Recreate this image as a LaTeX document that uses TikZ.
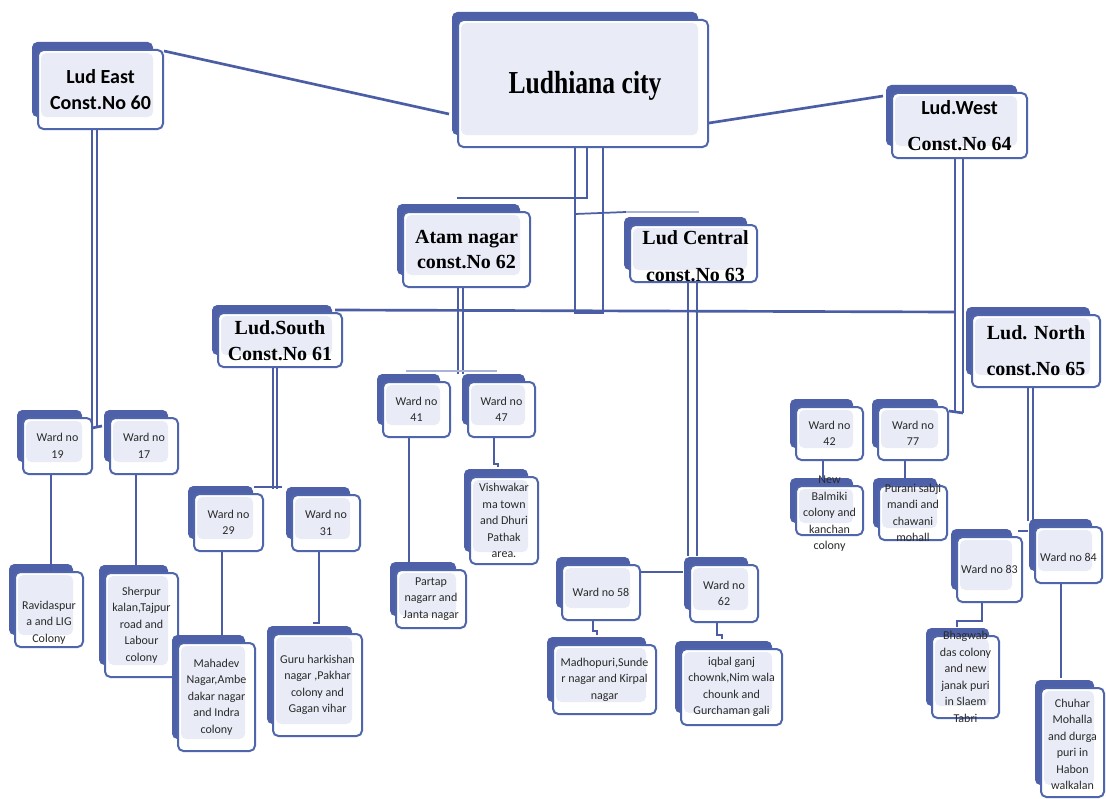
\documentclass[tikz,border=0pt]{standalone}
\usepackage{graphicx}
\usepackage{fontspec}
\setmainfont{Liberation Serif}
\newfontfamily\carl{Carlito}
\usetikzlibrary{calc}
\definecolor{shadowc}{HTML}{4E60A8}
\definecolor{borderc}{HTML}{5066AC}
\definecolor{lightc}{HTML}{E9ECF6}
\definecolor{linec}{HTML}{4A5DA5}
\definecolor{lightline}{HTML}{A9B3D8}
\definecolor{wtextc}{HTML}{2A2A2A}
\newcommand\bx[5]{%
  \fill[shadowc, rounded corners=4pt] ({#2-6},{#3-8}) rectangle ({#4-10},{#5-12});
  \node[box, minimum width={(#4-#2)*0.75pt}, minimum height={(#5-#3)*0.75pt}] (#1) at ({(#2+#4)/2},{(#3+#5)/2}) {};}
\begin{document}
\begin{tikzpicture}[x=0.75pt,y=-0.75pt,
  box/.style={draw=borderc, line width=1.5pt, fill=white, rounded corners=4pt, inner sep=0pt,
    path picture={\fill[lightc] ([shift={(3,3)}]path picture bounding box.north west) rectangle ([shift={(-10,-12)}]path picture bounding box.south east);}},
  wt/.style={align=center, font=\carl\fontsize{9}{12.4}\selectfont, text=wtextc, inner sep=0pt},
  ht/.style={align=center, font=\bfseries\fontsize{15}{19.5}\selectfont, inner sep=0pt},
  conn/.style={draw=linec, line width=2pt},
  dbl/.style={draw=linec, line width=1.3pt},
  wline/.style={draw=linec, line width=1.6pt},
  connlight/.style={draw=lightline, line width=1.5pt}]
\useasboundingbox[fill=white] (0,0) rectangle (1106,799);

% ---------- boxes ----------
\bx{city}{458}{20}{708}{147}
\bx{east}{38}{50}{163}{129}
\bx{west}{892}{93}{1027}{158}
\bx{atam}{403}{212}{530}{287}
\bx{central}{630}{225}{757}{282}
\bx{south}{218}{313}{342}{367}
\bx{north}{972}{315}{1100}{387}
\bx{w19}{23}{418}{92}{474}
\bx{w17}{110}{418}{178}{474}
\bx{w29}{194}{494}{263}{551}
\bx{w31}{292}{495}{360}{551}
\bx{w41}{383}{382}{450}{437}
\bx{w47}{468}{382}{535}{437}
\bx{w58}{562}{565}{640}{620}
\bx{w62}{690}{565}{758}{622}
\bx{w42}{796}{407}{863}{460}
\bx{w77}{878}{407}{948}{460}
\bx{w84}{1035}{527}{1102}{583}
\bx{w83}{957}{537}{1022}{602}
\bx{ravi}{15}{572}{83}{647}
\bx{sher}{105}{573}{178}{677}
\bx{maha}{178}{643}{255}{751}
\bx{guru}{273}{634}{362}{736}
\bx{vish}{470}{477}{538}{564}
\bx{part}{396}{570}{466}{628}
\bx{madh}{553}{645}{656}{714}
\bx{iqba}{681}{649}{782}{725}
\bx{balm}{796}{486}{863}{535}
\bx{pura}{879}{486}{947}{540}
\bx{bhag}{932}{636}{999}{718}
\bx{chuh}{1041}{688}{1104}{797}

% ---------- heading texts ----------
\node[font=\bfseries\fontsize{24}{28}\selectfont, inner sep=0pt] (cityt) at ([shift={(2,2)}]city) {\scalebox{0.8}[1]{Ludhiana city}};
\node[ht, font=\carl\bfseries\fontsize{15}{20}\selectfont] (eastt) at (east) {Lud East\\Const.No 60};
\node[ht, font=\bfseries\fontsize{15}{27.5}\selectfont] (westt) at (west) {{\carl Lud.West}\\Const.No 64};
\node[ht, font=\bfseries\fontsize{15}{19}\selectfont] (atamt) at (atam) {Atam nagar\\const.No 62};
\node[ht, font=\bfseries\fontsize{15}{28}\selectfont] (centralt) at ([shift={(2,2.5)}]central) {Lud Central\\const.No 63};
\node[ht, font=\bfseries\fontsize{15}{19.5}\selectfont] (southt) at ([shift={(0,1)}]south) {Lud.South\\Const.No 61};
\node[ht, font=\bfseries\fontsize{15}{27}\selectfont] (northt) at (north) {Lud. North\\const.No 65};

% ---------- ward texts ----------
\node[wt] (w19t) at (w19) {Ward no\\19};
\node[wt] (w17t) at (w17) {Ward no\\17};
\node[wt] (w29t) at (w29) {Ward no\\29};
\node[wt] (w31t) at (w31) {Ward no\\31};
\node[wt] (w41t) at (w41) {Ward no\\41};
\node[wt] (w47t) at (w47) {Ward no\\47};
\node[wt] (w58t) at (w58) {Ward no 58};
\node[wt] (w62t) at (w62) {Ward no\\62};
\node[wt] (w42t) at (w42) {Ward no\\42};
\node[wt] (w77t) at (w77) {Ward no\\77};
\node[wt] (w83t) at (w83) {Ward no 83};
\node[wt] (w84t) at ([shift={(0,2)}]w84) {Ward no 84};
\node[wt] (ravit) at ([shift={(0,13)}]ravi) {Ravidaspur\\a and LIG\\Colony};
\node[wt] (shert) at (sher) {Sherpur\\kalan,Tajpur\\road and\\Labour\\colony};
\node[wt] (mahat) at (maha) {Mahadev\\Nagar,Ambe\\dakar nagar\\and Indra\\colony};
\node[wt] (gurut) at (guru) {Guru harkishan\\nagar ,Pakhar\\colony and\\Gagan vihar};
\node[wt] (visht) at (vish) {Vishwakar\\ma town\\and Dhuri\\Pathak\\area.};
\node[wt] (partt) at (part) {Partap\\nagarr and\\Janta nagar};
\node[wt] (madht) at (madh) {Madhopuri,Sunde\\r nagar and Kirpal\\nagar};
\node[wt] (iqbat) at (iqba) {iqbal ganj\\chownk,Nim wala\\chounk and\\Gurchaman gali};
\node[wt] (balmt) at ([shift={(0,3.5)}]balm) {New\\Balmiki\\colony and\\kanchan\\colony};
\node[wt] (purat) at (pura) {Purani sabji\\mandi and\\chawani\\mohall};
\node[wt] (bhagt) at (bhag) {Bhagwab\\das colony\\and new\\janak puri\\in Slaem\\Tabri};
\node[wt] (chuht) at ([shift={(0,2)}]chuh) {Chuhar\\Mohalla\\and durga\\puri in\\Habon\\walkalan};

% ---------- connectors from the city ----------
\draw[conn] ([shift={(0,2)}]east.north east) -- ([shift={(-8,-34)}]city.south west);
\draw[conn] ([shift={(0,-25)}]city.south east) -- ([shift={(-8,4)}]west.north west);
\coordinate (ca) at ([shift={(-8,0)}]city.south);
\coordinate (cb) at ([shift={(4,0)}]city.south);
\coordinate (cc) at ([shift={(20,0)}]city.south);
\draw[dbl] (ca) -- ++(0,165) -- ++(28,0) -- (cc);
\draw[dbl] (cb) |- ([shift={(55,-13)}]atam.north west);
\draw[dbl] ([shift={(0,66)}]ca) -- ([shift={(-3,-12)}]central.north west);
\draw[connlight] ([shift={(-3,-12)}]central.north west) -- ([shift={(70,-12)}]central.north west);
\draw[conn] ([shift={(-8,-2)}]south.north east) -- ([shift={(-4.5,153)}]west.south);

% ---------- constituency to wards ----------
\draw[dbl] ([shift={(-8.5,0)}]east.south) -- ++(0,298);
\draw[dbl] ([shift={(-3.5,0)}]east.south) -- ++(0,298);
\draw[conn] ([shift={(-8.5,298)}]east.south) -- ([shift={(-7,9)}]w17.north west);

\draw[dbl] ([shift={(-7,0)}]south.south) -- ++(0,121);
\draw[dbl] ([shift={(-3,0)}]south.south) -- ++(0,121);
\draw[conn] ([shift={(61,-6)}]w29.north west) -- ([shift={(-9,-7)}]w31.north west);

\draw[dbl] ([shift={(-8.5,0)}]atam.south) -- ++(0,86);
\draw[dbl] ([shift={(-3.5,0)}]atam.south) -- ++(0,86);
\draw[connlight] ([shift={(24,-10)}]w41.north west) -- ([shift={(30,-10)}]w47.north west);

\draw[dbl] ([shift={(-5.5,0)}]central.south) -- ++(0,273);
\draw[dbl] ([shift={(3.5,0)}]central.south) -- ++(0,273);
\draw[conn] ([shift={(0,8)}]w58.north east) -- ([shift={(-6,8)}]w62.north west);

\draw[dbl] ([shift={(-4.5,0)}]west.south) -- ++(0,254);
\draw[dbl] ([shift={(3.5,0)}]west.south) -- ++(0,254);
\draw[conn] ([shift={(3.5,254)}]west.south) -- ([shift={(0,5)}]w77.north east);

\draw[dbl] ([shift={(-8,0)}]north.south) -- ++(0,133);
\draw[dbl] ([shift={(-3,0)}]north.south) -- ++(0,133);
\draw[conn] ([shift={(-5,-5)}]w83.north east) -- ([shift={(-6,5)}]w84.north west);

% ---------- wards to localities ----------
\draw[wline] ([shift={(-6.5,0)}]w19.south) -- ([shift={(-6.5,0)}]w19.south |- ravi.north);
\draw[wline] ([shift={(-8,0)}]w17.south) -- ++(0,91);
\draw[wline] ([shift={(-6.5,0)}]w29.south) -- ++(0,84);
\draw[wline] ([shift={(-7,0)}]w31.south) -- ++(0,71) -- ++(-6,0);
\draw[wline] ([shift={(-7.5,0)}]w41.south) -- ++(0,126);
\draw[wline] ([shift={(-7.5,0)}]w47.south) -- ++(0,26) -- ++(4,0) -- ++(0,3);
\draw[wline] ([shift={(-8,0)}]w58.south) -- ++(0,10) -- ++(4,0) -- ++(0,4);
\draw[wline] ([shift={(-7,0)}]w62.south) -- ++(0,12) -- ++(5,0) -- ++(0,4);
\draw[wline] ([shift={(-6.5,0)}]w42.south) -- ++(0,18);
\draw[wline] ([shift={(-8,0)}]w77.south) -- ++(0,18);
\draw[wline] ([shift={(-7.5,0)}]w83.south) -- ++(0,18) -- ++(-25,0) -- ++(0,6);
\draw[wline] ([shift={(-7.5,0)}]w84.south) -- ++(0,94);
\end{tikzpicture}
\end{document}
